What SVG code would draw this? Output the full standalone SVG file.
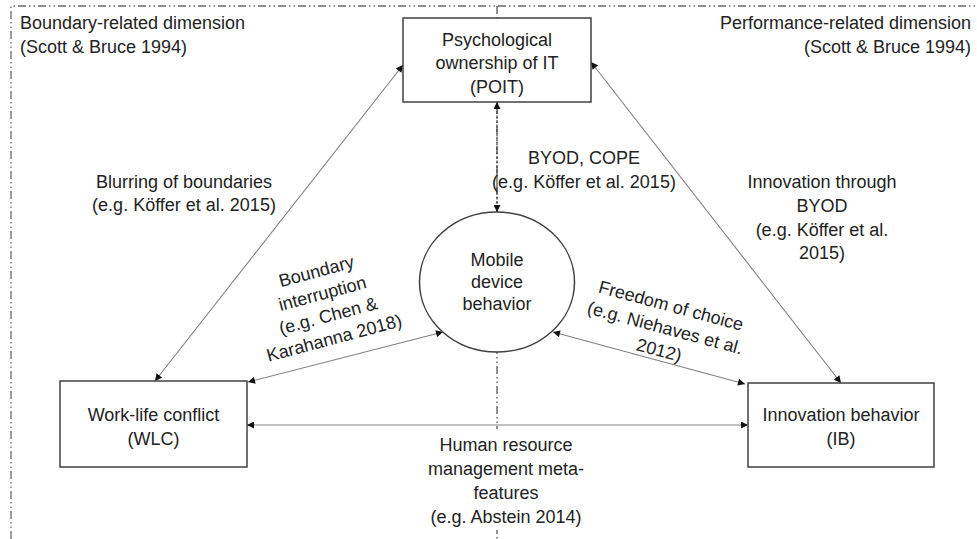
<svg xmlns="http://www.w3.org/2000/svg" width="977" height="539" viewBox="0 0 977 539">
<style>
text{font-family:"Liberation Sans",Arial,sans-serif;font-size:18px;fill:#222}
.c{text-anchor:middle}
.r{text-anchor:end}
.frame{fill:none;stroke:#6a6a6a;stroke-width:1.3;stroke-dasharray:8 3 1.5 3 1.5 3}
.div{fill:none;stroke:#555;stroke-width:1.3;stroke-dasharray:8 3 1.5 3 1.5 3}
.box{fill:#fff;stroke:#404040;stroke-width:1.5}
.con{fill:none;stroke:#808080;stroke-width:1.1;marker-start:url(#ah);marker-end:url(#ah)}
</style>
<defs>
<marker id="ah" viewBox="0 0 10 10" refX="10" refY="5" markerWidth="8" markerHeight="7" markerUnits="userSpaceOnUse" orient="auto-start-reverse">
<path d="M0,0 L10,5 L0,10 z" fill="#111"/>
</marker>
</defs>
<rect width="977" height="539" fill="#fff"/>
<path class="frame" d="M11,539 V6 H977"/>
<path class="div" d="M497,6 V539"/>
<g id="dimension-labels">
<text x="20" y="29">Boundary-related dimension</text>
<text x="20" y="53">(Scott &amp; Bruce 1994)</text>
<text class="r" x="971" y="29">Performance-related dimension</text>
<text class="r" x="971" y="53">(Scott &amp; Bruce 1994)</text>
</g>
<g id="connectors">
<line class="con" x1="403" y1="65" x2="155" y2="381"/>
<line class="con" x1="591" y1="62" x2="841" y2="383"/>
<line class="con" x1="497" y1="102" x2="497" y2="212" style="stroke:#333;stroke-dasharray:3 1.5"/>
<line class="con" x1="443" y1="332" x2="248" y2="382"/>
<line class="con" x1="553" y1="332" x2="745" y2="384"/>
<line class="con" x1="247" y1="425" x2="748" y2="425"/>
</g>
<g id="poit">
<rect class="box" x="403" y="18" width="188" height="84"/>
<text class="c" x="497" y="46">Psychological</text>
<text class="c" x="497" y="69">ownership of IT</text>
<text class="c" x="497" y="93">(POIT)</text>
</g>
<g id="mdb">
<ellipse class="box" cx="497" cy="282" rx="77.5" ry="70"/>
<text class="c" x="497" y="266">Mobile</text>
<text class="c" x="497" y="288">device</text>
<text class="c" x="497" y="310">behavior</text>
</g>
<g id="wlc">
<rect class="box" x="60" y="381" width="187" height="86"/>
<text class="c" x="153.5" y="421">Work-life conflict</text>
<text class="c" x="153.5" y="445">(WLC)</text>
</g>
<g id="ib">
<rect class="box" x="748" y="383" width="186" height="84"/>
<text class="c" x="841" y="421">Innovation behavior</text>
<text class="c" x="841" y="445">(IB)</text>
</g>
<g id="edge-labels">
<text class="c" x="184" y="188">Blurring of boundaries</text>
<text class="c" x="184" y="211">(e.g. Köffer et al. 2015)</text>
<text class="c" x="584" y="164">BYOD, COPE</text>
<text class="c" x="584" y="188">(e.g. Köffer et al. 2015)</text>
<text class="c" x="822" y="188">Innovation through</text>
<text class="c" x="822" y="212">BYOD</text>
<text class="c" x="822" y="236">(e.g. Köffer et al.</text>
<text class="c" x="822" y="259">2015)</text>
<g transform="rotate(-15 327 311)">
<text class="c" x="327" y="276">Boundary</text>
<text class="c" x="327" y="299">interruption</text>
<text class="c" x="327" y="322">(e.g. Chen &amp;</text>
<text class="c" x="327" y="345">Karahanna 2018)</text>
</g>
<g transform="rotate(15 665 328)">
<text class="c" x="665" y="311">Freedom of choice</text>
<text class="c" x="665" y="334">(e.g. Niehaves et al.</text>
<text class="c" x="665" y="357">2012)</text>
</g>
<rect x="408" y="429" width="196" height="101" fill="#fff"/>
<text class="c" x="506" y="451">Human resource</text>
<text class="c" x="506" y="475">management meta-</text>
<text class="c" x="506" y="499">features</text>
<text class="c" x="506" y="523">(e.g. Abstein 2014)</text>
</g>
</svg>
